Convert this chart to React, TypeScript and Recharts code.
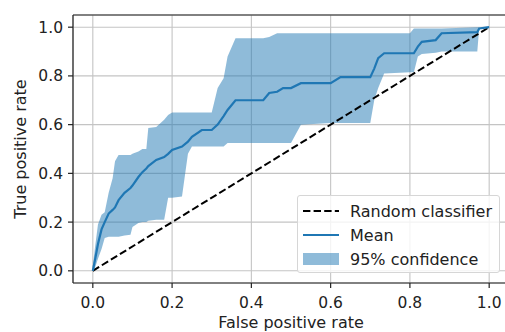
import React from 'react';
import {
  ComposedChart,
  Area,
  Line,
  XAxis,
  YAxis,
  CartesianGrid,
  ReferenceLine,
  Legend,
  Label,
} from 'recharts';

// values
const fpr = [
  0, 0.005, 0.013, 0.022, 0.03, 0.04, 0.05, 0.056, 0.065, 0.08,
  0.095, 0.1, 0.115, 0.125, 0.135, 0.14, 0.16, 0.18, 0.19, 0.2,
  0.225, 0.24, 0.25, 0.275, 0.3, 0.315, 0.33, 0.34, 0.36, 0.43,
  0.445, 0.465, 0.48, 0.5, 0.525, 0.6, 0.625, 0.7, 0.71, 0.72,
  0.735, 0.8, 0.81, 0.82, 0.83, 0.865, 0.88, 0.97, 0.975, 1.0,
];
const meanTpr = [
  0, 0.04, 0.11, 0.17, 0.2, 0.235, 0.25, 0.26, 0.29, 0.32,
  0.34, 0.35, 0.385, 0.405, 0.42, 0.43, 0.455, 0.467, 0.48, 0.496,
  0.51, 0.53, 0.55, 0.578, 0.578, 0.6, 0.635, 0.66, 0.7, 0.7,
  0.73, 0.735, 0.75, 0.75, 0.77, 0.77, 0.795, 0.795, 0.83, 0.873,
  0.893, 0.893, 0.893, 0.92, 0.94, 0.947, 0.975, 0.98, 0.995, 1.0,
];
const lowerTpr = [
  0, 0.01, 0.05, 0.09, 0.135, 0.14, 0.14, 0.14, 0.14, 0.145,
  0.148, 0.18, 0.196, 0.2, 0.2, 0.205, 0.21, 0.21, 0.3, 0.3,
  0.305, 0.48, 0.51, 0.51, 0.51, 0.51, 0.51, 0.525, 0.525, 0.525,
  0.525, 0.525, 0.525, 0.525, 0.6, 0.607, 0.607, 0.607, 0.7, 0.75,
  0.81, 0.815, 0.815, 0.88, 0.89, 0.895, 0.9, 0.9, 1.0, 1.0,
];
const upperTpr = [
  0.02, 0.09, 0.19, 0.23, 0.24, 0.32, 0.38, 0.45, 0.475, 0.475,
  0.475, 0.48, 0.49, 0.5, 0.5, 0.586, 0.59, 0.62, 0.64, 0.65,
  0.65, 0.65, 0.65, 0.65, 0.65, 0.75, 0.79, 0.88, 0.955, 0.955,
  0.96, 0.975, 0.975, 0.975, 0.975, 0.975, 0.975, 0.975, 0.975, 0.975,
  0.975, 0.975, 0.995, 0.995, 0.995, 0.995, 0.995, 1.0, 1.0, 1.0,
];

const chanceFpr = [0, 1];
const chanceTpr = [0, 1];

const ticks = [0, 0.2, 0.4, 0.6, 0.8, 1.0];

const legendItems = [
  { label: 'Random classifier', kind: 'dash' },
  { label: 'Mean', kind: 'line' },
  { label: '95% confidence', kind: 'patch' },
];

const data = fpr.map((x, i) => ({
  fpr: x,
  mean: meanTpr[i],
  band: [lowerTpr[i], upperTpr[i]],
}));
const chanceData = chanceFpr.map((x, i) => ({ fpr: x, chance: chanceTpr[i] }));

const BLUE = '#1f77b4';
const FONT = 'DejaVu Sans, sans-serif';
const INK = '#222';

const ChartLegend = () => (
  <div
    style={{
      boxSizing: 'border-box',
      width: 203,
      height: 78,
      background: 'rgba(255,255,255,0.8)',
      border: '1px solid #d6d6d6',
      borderRadius: 3,
      padding: '3px 0 0 5px',
      fontFamily: FONT,
      fontSize: 16,
      color: INK,
    }}
  >
    {legendItems.map((item) => (
      <div key={item.label} style={{ display: 'flex', alignItems: 'center', height: 24 }}>
        <svg width={36} height={14} style={{ marginRight: 11 }}>
          {item.kind === 'dash' && (
            <line x1={0} y1={7} x2={36} y2={7} stroke="#000" strokeWidth={2} strokeDasharray="7.4 3.2" />
          )}
          {item.kind === 'line' && <line x1={0} y1={7} x2={36} y2={7} stroke={BLUE} strokeWidth={2} />}
          {item.kind === 'patch' && <rect x={0} y={1} width={36} height={12} fill={BLUE} fillOpacity={0.5} />}
        </svg>
        <span>{item.label}</span>
      </div>
    ))}
  </div>
);

const App: React.FC = () => {
  return (
    <div style={{ position: 'absolute', left: 0, top: 0, width: 505, height: 332, overflow: 'hidden', background: '#fff' }}>
      <ComposedChart width={520} height={332} data={data} margin={{ top: 15, right: 11, bottom: 0, left: 0 }}>
        <CartesianGrid stroke="#c4c4c4" strokeWidth={1.1} />
        <XAxis
          dataKey="fpr"
          type="number"
          domain={[-0.05, 1.05]}
          allowDataOverflow
          ticks={ticks}
          tickFormatter={(v: number) => v.toFixed(1)}
          height={49}
          tickSize={5}
          tickMargin={9}
          axisLine={{ stroke: INK, strokeWidth: 1.2 }}
          tickLine={{ stroke: INK, strokeWidth: 1.2 }}
          tick={{ fill: INK, fontSize: 15.5, fontFamily: FONT }}
        >
          <Label value="False positive rate" position="insideBottom" offset={4} fill={INK} fontSize={16} fontFamily={FONT} />
        </XAxis>
        <YAxis
          type="number"
          domain={[-0.05, 1.05]}
          allowDataOverflow
          ticks={ticks}
          tickFormatter={(v: number) => v.toFixed(1)}
          width={73}
          tickSize={5}
          tickMargin={5}
          axisLine={{ stroke: INK, strokeWidth: 1.2 }}
          tickLine={{ stroke: INK, strokeWidth: 1.2 }}
          tick={{ fill: INK, fontSize: 15.5, fontFamily: FONT }}
        >
          <Label
            value="True positive rate"
            angle={-90}
            position="insideLeft"
            offset={20}
            fill={INK}
            fontSize={16}
            fontFamily={FONT}
            style={{ textAnchor: 'middle' }}
          />
        </YAxis>
        <ReferenceLine y={1.05} stroke={INK} strokeWidth={1.2} />
        <ReferenceLine x={1.05} stroke={INK} strokeWidth={1.2} />
        <Area
          dataKey="band"
          type="linear"
          stroke="none"
          fill={BLUE}
          fillOpacity={0.5}
          isAnimationActive={false}
          activeDot={false}
        />
        <Line
          data={chanceData}
          dataKey="chance"
          type="linear"
          stroke="#000"
          strokeWidth={2}
          strokeDasharray="7.4 3.2"
          dot={false}
          activeDot={false}
          isAnimationActive={false}
        />
        <Line
          dataKey="mean"
          type="linear"
          stroke={BLUE}
          strokeWidth={2.2}
          dot={false}
          activeDot={false}
          isAnimationActive={false}
        />
        <Legend
          layout="horizontal"
          verticalAlign="middle"
          align="center"
          content={() => <ChartLegend />}
          wrapperStyle={{ position: 'absolute', left: 297, top: 195, width: 203, height: 78 }}
        />
      </ComposedChart>
    </div>
  );
};

export default App;
